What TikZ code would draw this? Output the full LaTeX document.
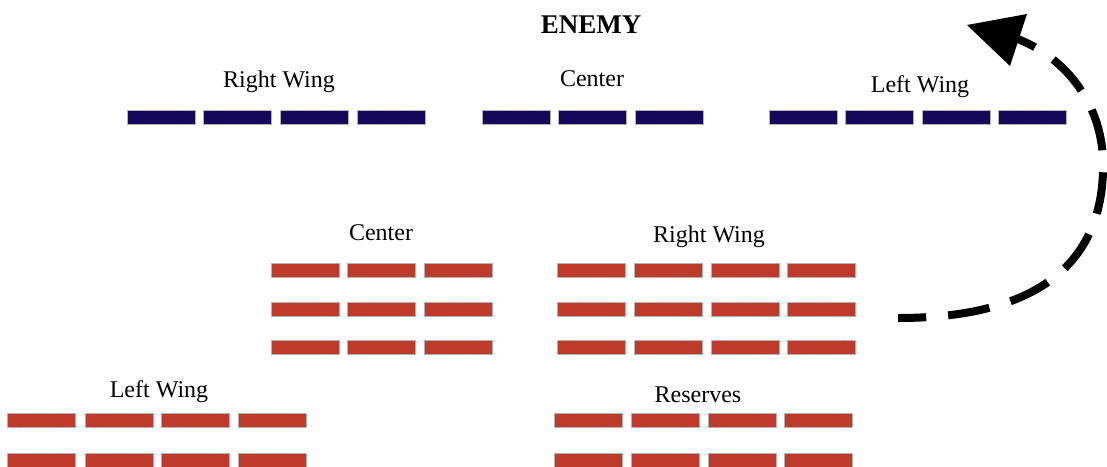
\documentclass[tikz,border=0pt]{standalone}
\usepackage{fontspec}
\setmainfont{Liberation Serif}
\definecolor{enemyblue}{RGB}{22,8,90}
\definecolor{ownred}{RGB}{190,58,42}
\tikzset{
  bar/.style={inner sep=0pt, minimum width=68pt, minimum height=14pt, draw=gray!60, line width=0.5pt},
  bluebar/.style={bar, fill=enemyblue},
  redbar/.style={bar, fill=ownred},
  lbl/.style={anchor=base, inner sep=0pt, font=\fontsize{24}{28}\selectfont},
  title/.style={anchor=base, inner sep=0pt, font=\fontsize{27}{30}\selectfont\bfseries},
  moveline/.style={line width=8pt, dash pattern=on 42pt off 22pt, dash phase=20pt}
}
\begin{document}
\begin{tikzpicture}[x=1pt,y=-1pt]
\useasboundingbox (0,0) rectangle (1107,466);
% Labels
\node[title] (enemy) at (591,33) {ENEMY};
\node[lbl] (eRW) at (279,87) {Right Wing};
\node[lbl] (eC) at (592,86) {Center};
\node[lbl] (eLW) at (920,92) {Left Wing};
\node[lbl] (oC) at (381,240) {Center};
\node[lbl] (oRW) at (709,242) {Right Wing};
\node[lbl] (oLW) at (159,397) {Left Wing};
\node[lbl] (oR) at (698,402) {Reserves};
% Enemy bars
\foreach \x [count=\i] in {161,237,314,391} \node[bluebar] (erw\i) at (\x,117) {};
\foreach \x [count=\i] in {516,592,669} \node[bluebar] (ec\i) at (\x,117) {};
\foreach \x [count=\i] in {803,879.5,956,1032.5} \node[bluebar] (elw\i) at (\x,117) {};
% Own bars
\foreach \y [count=\j] in {270.5,309.5,347.5} {
  \foreach \x [count=\i] in {305,381,458} \node[redbar] (oc\j\i) at (\x,\y) {};
  \foreach \x [count=\i] in {591.5,668,745,821.5} \node[redbar] (orw\j\i) at (\x,\y) {};
}
\foreach \y [count=\j] in {420.5,460} {
  \foreach \x [count=\i] in {41.5,119,195,272} \node[redbar] (olw\j\i) at (\x,\y) {};
  \foreach \x [count=\i] in {588.5,665,742,818} \node[redbar] (ores\j\i) at (\x,\y) {};
}
% Flanking movement arrow (drawn from the head back to its start)
\coordinate (mstart) at (898,318);
\coordinate (mright) at (1103,160);
\coordinate (mend) at (1015,38);
\coordinate (tip) at (967,25);
\coordinate (hA) at (1027,14);
\coordinate (hB) at (1010,66);
\draw[moveline] (mend) .. controls (1062,55) and (1101,100) .. (mright)
  .. controls (1105,240) and (1065,318) .. (mstart);
\fill (tip) -- (hA) -- (hB) -- cycle;
\end{tikzpicture}
\end{document}
